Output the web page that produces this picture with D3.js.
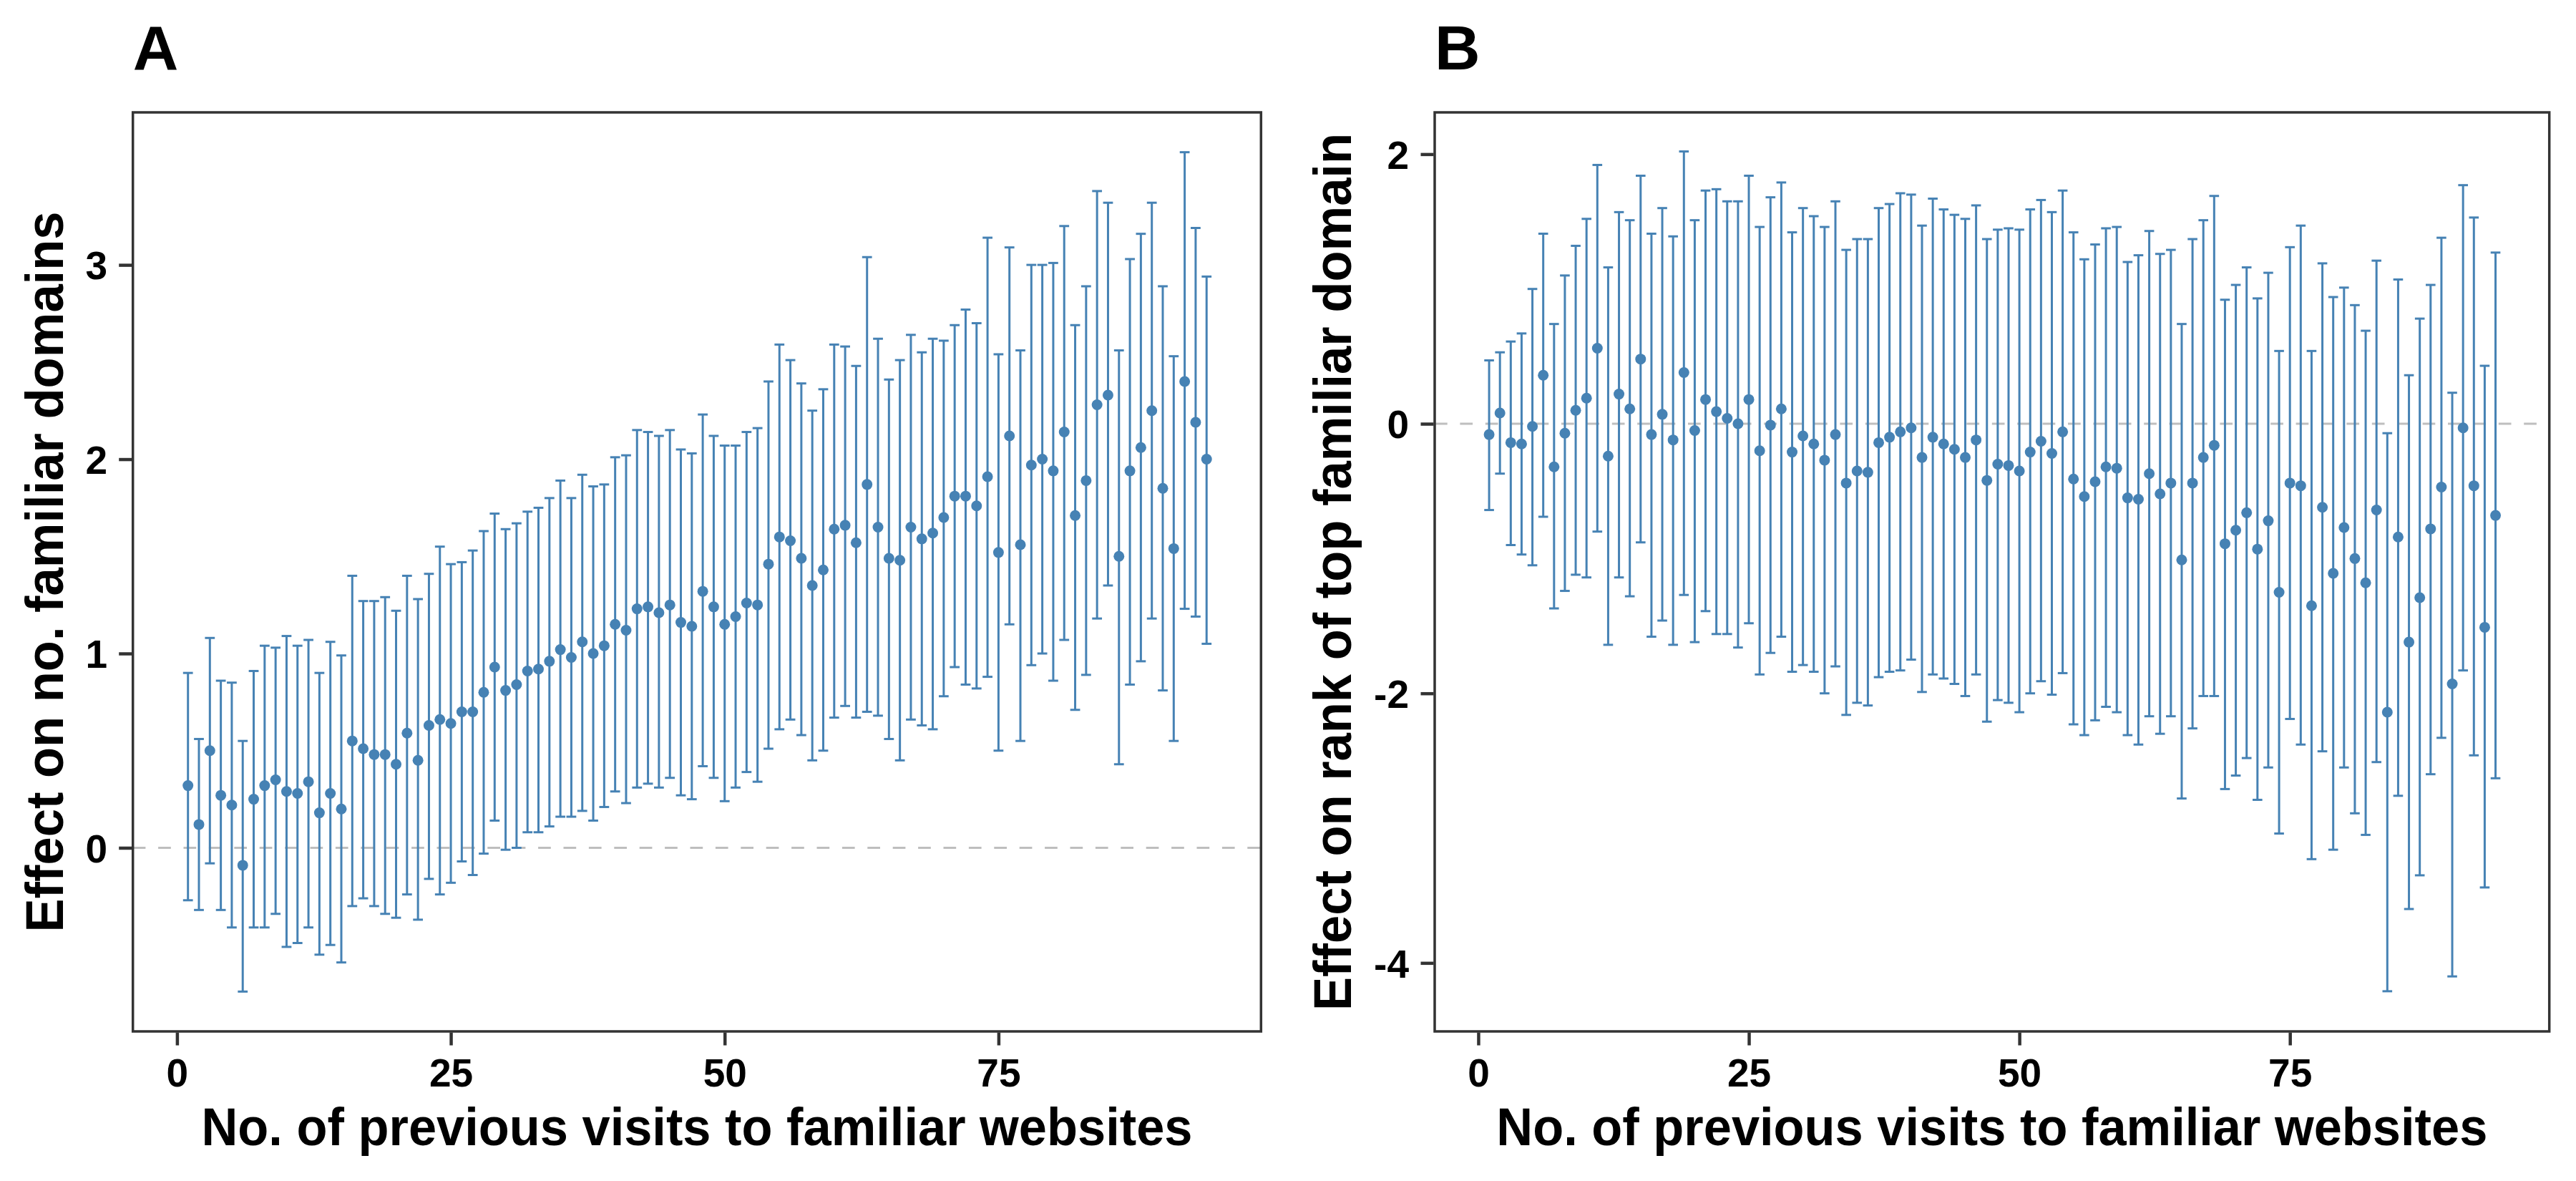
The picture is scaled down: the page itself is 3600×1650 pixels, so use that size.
<!DOCTYPE html>
<html>
<head>
<meta charset="utf-8">
<script src="https://cdn.jsdelivr.net/npm/d3@7"></script>
<style>
html,body{margin:0;padding:0;background:#fff;}
svg{display:block;}
text{font-family:"Liberation Sans",Arial,Helvetica,sans-serif;font-weight:bold;fill:#000;}
</style>
</head>
<body>
<svg id="chart" width="3600" height="1650"></svg>
<script>
// ---------- data ----------
const visits = d3.range(1, 95); // 1..94
const xTicks = [0, 25, 50, 75];

const aEst = [0.32,0.12,0.50,0.27,0.22,-0.09,0.25,0.32,0.35,0.29,
0.28,0.34,0.18,0.28,0.20,0.55,0.51,0.48,0.48,0.43,
0.59,0.45,0.63,0.66,0.64,0.70,0.70,0.80,0.93,0.81,
0.84,0.91,0.92,0.96,1.02,0.98,1.06,1.00,1.04,1.15,
1.12,1.23,1.24,1.21,1.25,1.16,1.14,1.32,1.24,1.15,
1.19,1.26,1.25,1.46,1.60,1.58,1.49,1.35,1.43,1.64,
1.66,1.57,1.87,1.65,1.49,1.48,1.65,1.59,1.62,1.70,
1.81,1.81,1.76,1.91,1.52,2.12,1.56,1.97,2.00,1.94,
2.14,1.71,1.89,2.28,2.33,1.50,1.94,2.06,2.25,1.85,
1.54,2.40,2.19,2.00];
const aHi = [0.90,0.56,1.08,0.86,0.85,0.55,0.91,1.04,1.03,1.09,
1.04,1.07,0.90,1.06,0.99,1.40,1.27,1.27,1.29,1.22,
1.40,1.28,1.41,1.55,1.46,1.47,1.53,1.63,1.72,1.64,
1.67,1.73,1.75,1.80,1.89,1.80,1.92,1.86,1.87,2.01,
2.02,2.15,2.14,2.12,2.15,2.05,2.03,2.23,2.12,2.07,
2.07,2.14,2.16,2.40,2.59,2.51,2.39,2.25,2.36,2.59,
2.58,2.48,3.04,2.62,2.41,2.51,2.64,2.55,2.62,2.61,
2.69,2.77,2.70,3.14,2.54,3.09,2.56,3.00,3.00,3.01,
3.20,2.69,2.89,3.38,3.32,2.56,3.03,3.16,3.32,2.89,
2.53,3.58,3.19,2.94];
const aLo = [-0.27,-0.32,-0.08,-0.32,-0.41,-0.74,-0.41,-0.41,-0.34,-0.51,
-0.49,-0.41,-0.55,-0.50,-0.59,-0.30,-0.26,-0.30,-0.34,-0.36,
-0.24,-0.37,-0.16,-0.24,-0.18,-0.07,-0.14,-0.03,0.14,-0.01,
0.00,0.08,0.08,0.11,0.16,0.16,0.19,0.14,0.21,0.29,
0.23,0.31,0.33,0.31,0.36,0.27,0.25,0.42,0.36,0.24,
0.31,0.39,0.34,0.51,0.61,0.66,0.58,0.45,0.50,0.67,
0.73,0.67,0.70,0.68,0.56,0.45,0.66,0.63,0.61,0.78,
0.93,0.84,0.82,0.88,0.50,1.15,0.55,0.94,1.00,0.86,
1.07,0.71,0.89,1.18,1.35,0.43,0.84,0.96,1.18,0.81,
0.55,1.23,1.19,1.05];
const aYTicks = [0, 1, 2, 3];

const bEst = [-0.08,0.08,-0.14,-0.15,-0.02,0.36,-0.32,-0.07,0.10,0.19,
0.56,-0.24,0.22,0.11,0.48,-0.08,0.07,-0.12,0.38,-0.05,
0.18,0.09,0.04,0.00,0.18,-0.20,-0.01,0.11,-0.21,-0.09,
-0.15,-0.27,-0.08,-0.44,-0.35,-0.36,-0.14,-0.10,-0.06,-0.03,
-0.25,-0.10,-0.15,-0.19,-0.25,-0.12,-0.42,-0.30,-0.31,-0.35,
-0.21,-0.13,-0.22,-0.06,-0.41,-0.54,-0.43,-0.32,-0.33,-0.55,
-0.56,-0.37,-0.52,-0.44,-1.01,-0.44,-0.25,-0.16,-0.89,-0.79,
-0.66,-0.93,-0.72,-1.25,-0.44,-0.46,-1.35,-0.62,-1.11,-0.77,
-1.00,-1.18,-0.64,-2.14,-0.84,-1.62,-1.29,-0.78,-0.47,-1.93,
-0.03,-0.46,-1.51,-0.68];
const bHi = [0.47,0.53,0.61,0.67,1.00,1.41,0.74,1.10,1.32,1.52,
1.92,1.16,1.57,1.51,1.84,1.41,1.60,1.39,2.02,1.51,
1.73,1.74,1.65,1.65,1.84,1.46,1.68,1.79,1.42,1.60,
1.54,1.46,1.65,1.29,1.37,1.37,1.60,1.63,1.71,1.70,
1.47,1.67,1.59,1.55,1.52,1.62,1.37,1.44,1.45,1.44,
1.59,1.66,1.57,1.73,1.42,1.22,1.33,1.45,1.46,1.20,
1.25,1.43,1.26,1.29,0.74,1.37,1.51,1.69,0.92,1.03,
1.16,0.93,1.12,0.54,1.31,1.47,0.54,1.19,0.94,1.01,
0.88,0.69,1.21,-0.07,1.07,0.36,0.78,1.03,1.38,0.23,
1.77,1.53,0.43,1.27];
const bLo = [-0.64,-0.37,-0.90,-0.97,-1.05,-0.69,-1.37,-1.24,-1.12,-1.14,
-0.80,-1.64,-1.14,-1.28,-0.88,-1.58,-1.46,-1.64,-1.27,-1.62,
-1.39,-1.56,-1.56,-1.66,-1.48,-1.86,-1.70,-1.58,-1.84,-1.79,
-1.84,-2.00,-1.80,-2.16,-2.07,-2.09,-1.88,-1.84,-1.83,-1.75,
-1.99,-1.86,-1.89,-1.93,-2.02,-1.86,-2.21,-2.05,-2.07,-2.14,
-2.00,-1.91,-2.01,-1.85,-2.23,-2.31,-2.20,-2.10,-2.14,-2.31,
-2.38,-2.17,-2.30,-2.17,-2.78,-2.26,-2.02,-2.02,-2.71,-2.61,
-2.48,-2.79,-2.55,-3.04,-2.19,-2.38,-3.23,-2.43,-3.16,-2.55,
-2.89,-3.05,-2.51,-4.21,-2.76,-3.60,-3.35,-2.60,-2.33,-4.10,
-1.83,-2.46,-3.44,-2.63];
const bYTicks = [-4, -2, 0, 2];

const xTitle = "No. of previous visits to familiar websites";
const panels = [
  {letter:"A", est:aEst, lo:aLo, hi:aHi, yTicks:aYTicks, yTitle:"Effect on no. familiar domains",
   left:185.7, right:1762.3, yDomain:[-0.945, 3.785], yTitleX:88, yTitleLen:1007, tickLabelX:150},
  {letter:"B", est:bEst, lo:bLo, hi:bHi, yTicks:bYTicks, yTitle:"Effect on rank of top familiar domain",
   left:2005, right:3562.7, yDomain:[-4.508, 2.31], yTitleX:1888, yTitleLen:1226, tickLabelX:1969}
];

// ---------- drawing ----------
const svg = d3.select("#chart");
const plotTop = 157, plotBottom = 1441;
const col = "#4682B4";
const xDomain = [-4.03, 98.97];
const FONT = '"Liberation Sans",Arial,Helvetica,sans-serif';

panels.forEach(p => {
  const x = d3.scaleLinear().domain(xDomain).range([p.left, p.right]);
  const y = d3.scaleLinear().domain(p.yDomain).range([plotBottom, plotTop]);
  const g = svg.append("g");

  // zero reference line
  g.append("line")
    .attr("x1", p.left).attr("x2", p.right)
    .attr("y1", y(0)).attr("y2", y(0))
    .attr("stroke", "#BEBEBE").attr("stroke-width", 3)
    .attr("stroke-dasharray", "17.7,17.7");

  const data = visits.map((v, i) => ({v, est:p.est[i], lo:p.lo[i], hi:p.hi[i]}));
  const hw = x(0.45) - x(0);

  const eb = g.append("g").attr("stroke", col).attr("stroke-width", 3).attr("fill", "none");
  eb.selectAll("line.v").data(data).join("line").attr("class","v")
    .attr("x1", d => x(d.v)).attr("x2", d => x(d.v))
    .attr("y1", d => y(d.lo)).attr("y2", d => y(d.hi));
  eb.selectAll("line.t").data(data).join("line").attr("class","t")
    .attr("x1", d => x(d.v) - hw).attr("x2", d => x(d.v) + hw)
    .attr("y1", d => y(d.hi)).attr("y2", d => y(d.hi));
  eb.selectAll("line.b").data(data).join("line").attr("class","b")
    .attr("x1", d => x(d.v) - hw).attr("x2", d => x(d.v) + hw)
    .attr("y1", d => y(d.lo)).attr("y2", d => y(d.lo));

  g.selectAll("circle").data(data).join("circle")
    .attr("cx", d => x(d.v)).attr("cy", d => y(d.est))
    .attr("r", 7.5).attr("fill", col);

  // panel border
  g.append("rect")
    .attr("x", p.left).attr("y", plotTop)
    .attr("width", p.right - p.left).attr("height", plotBottom - plotTop)
    .attr("fill", "none").attr("stroke", "#333333").attr("stroke-width", 3.5);

  // x axis
  const xAxis = d3.axisBottom(x).tickValues(xTicks).tickSize(18).tickPadding(0).tickFormat(d3.format("d"));
  const xa = g.append("g").attr("transform", `translate(0,${plotBottom + 1.5})`).call(xAxis);
  xa.select(".domain").remove();
  xa.selectAll(".tick line").attr("stroke", "#333333").attr("stroke-width", 4.5);
  xa.selectAll(".tick text").attr("y", 75).attr("dy", null)
    .attr("font-size", 55).attr("fill", "#000")
    .style("font-family", FONT).style("font-weight", "bold");

  // y axis
  const yAxis = d3.axisLeft(y).tickValues(p.yTicks).tickSize(18).tickPadding(0).tickFormat(d => String(d));
  const ya = g.append("g").attr("transform", `translate(${p.left - 1.5},0)`).call(yAxis);
  ya.select(".domain").remove();
  ya.selectAll(".tick line").attr("stroke", "#333333").attr("stroke-width", 4.5);
  ya.selectAll(".tick text").attr("x", p.tickLabelX - p.left + 1.5).attr("dy", "0.36em")
    .attr("font-size", 55).attr("fill", "#000").attr("text-anchor", "end")
    .style("font-family", FONT).style("font-weight", "bold");

  // axis titles
  g.append("text")
    .attr("x", (p.left + p.right) / 2).attr("y", 1600)
    .attr("text-anchor", "middle").attr("font-size", 74)
    .attr("textLength", 1385).attr("lengthAdjust", "spacingAndGlyphs")
    .text(xTitle);

  const cy = (plotTop + plotBottom) / 2;
  g.append("text")
    .attr("transform", `translate(${p.yTitleX},${cy}) rotate(-90)`)
    .attr("text-anchor", "middle").attr("font-size", 74)
    .attr("textLength", p.yTitleLen).attr("lengthAdjust", "spacingAndGlyphs")
    .text(p.yTitle);

  // panel letter
  g.append("text")
    .attr("x", p.left).attr("y", 97)
    .attr("font-size", 88)
    .text(p.letter);
});
</script>
</body>
</html>
